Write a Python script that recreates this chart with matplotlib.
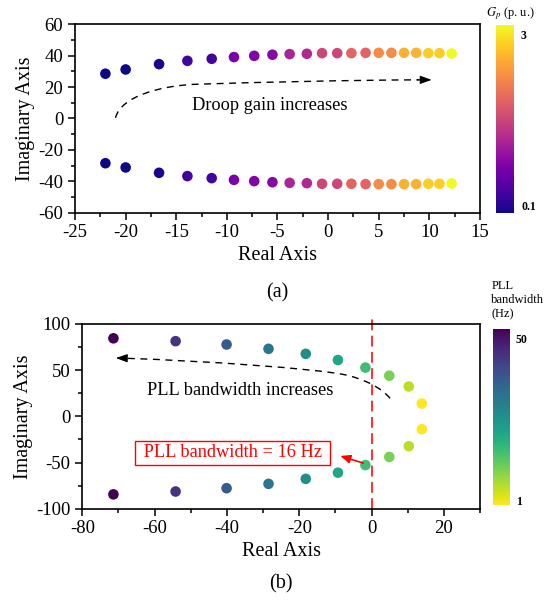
import numpy as np
import matplotlib
matplotlib.use('Agg')
import matplotlib.pyplot as plt
from matplotlib.path import Path
from matplotlib.patches import PathPatch

plt.rcParams['font.family'] = ['Liberation Serif', 'DejaVu Serif']
plt.rcParams['mathtext.fontset'] = 'stix'
plt.rcParams['axes.unicode_minus'] = False

# (a) droop gain sweep: upper branch poles (lower branch is the conjugate)
droop_re = [-22.0, -20.0, -16.7, -13.9, -11.5, -9.3, -7.3, -5.5, -3.8, -2.1,
            -0.6, 0.9, 2.3, 3.7, 5.0, 6.25, 7.5, 8.7, 9.9, 11.0, 12.2]
droop_im = [28.5, 31.2, 34.6, 36.7, 38.0, 39.1, 39.9, 40.6, 41.0, 41.2,
            41.6, 41.6, 41.6, 41.8, 41.8, 41.8, 41.8, 41.8, 41.6, 41.6, 41.4]
droop_gain = [0.1, 0.1, 0.15, 0.4, 0.4, 0.8, 0.85, 0.9, 1.2, 1.25, 1.55,
              1.55, 1.85, 1.85, 2.2, 2.2, 2.5, 2.5, 2.7, 2.7, 3.0]

# (b) PLL bandwidth sweep: upper branch poles
pll_re = [13.9, 10.3, 4.9, -1.7, -9.3, -18.2, -28.5, -40.1, -54.2, -71.4]
pll_im = [13.9, 32.3, 44.0, 52.8, 61.0, 67.7, 73.1, 77.8, 81.4, 84.5]
pll_bw = [1, 6, 11, 16, 21, 26, 31, 36, 43, 50]

fig = plt.figure(figsize=(5.57, 6.02), dpi=100)
ax1 = fig.add_axes([0.1347, 0.6467, 0.727, 0.313])
ax2 = fig.add_axes([0.1478, 0.155, 0.714, 0.3068])
cax1 = fig.add_axes([0.890, 0.646, 0.033, 0.312])
cax2 = fig.add_axes([0.885, 0.161, 0.031, 0.292])

tick_fs = 13.5
label_fs = 14.5


def style_axis(ax):
    for s in ['top', 'right', 'left', 'bottom']:
        ax.spines[s].set_linewidth(1.2)
    ax.tick_params(which='both', direction='out', top=False, right=False,
                   labelsize=tick_fs, width=1.1)
    ax.tick_params(which='major', length=5)
    ax.tick_params(which='minor', length=3)


# ---- (a) ----
re_a = np.array(droop_re)
im_a = np.array(droop_im)
sc1 = ax1.scatter(np.r_[re_a, re_a], np.r_[im_a, -im_a], c=droop_gain * 2,
                  cmap='plasma', vmin=0.1, vmax=3.0, s=58, linewidths=0, zorder=3)
ax1.set_xlim(-25, 15)
ax1.set_ylim(-60, 60)
ax1.set_xticks(np.arange(-25, 16, 5))
ax1.set_xticks(np.arange(-22.5, 15, 5), minor=True)
ax1.set_yticks(np.arange(-60, 61, 20))
ax1.set_yticks(np.arange(-50, 60, 20), minor=True)
style_axis(ax1)
ax1.set_xlabel('Real Axis', fontsize=label_fs, labelpad=3)
ax1.set_ylabel('Imaginary Axis', fontsize=label_fs, labelpad=2)

# guide curve (a)
guide_a = [(-21.0, 0.4), (-20.5, 14.0), (-16.5, 21.1), (-13.0, 21.8),
           (-6.0, 23.2), (2.0, 24.4), (9.0, 24.6)]
codes = [Path.MOVETO] + [Path.CURVE4] * 6
ax1.add_patch(PathPatch(Path(guide_a, codes), fill=False, ec='k', lw=1.0,
                        ls=(0, (5, 4))))
ax1.annotate('', xy=(10.5, 24.6), xytext=(8.5, 24.6),
             arrowprops=dict(arrowstyle='-|>,head_length=0.7,head_width=0.25',
                             color='k', lw=0.8))
ax1.text(-5.8, 8.0, 'Droop gain increases', fontsize=13.2,
         ha='center', va='center')

cb1 = fig.colorbar(sc1, cax=cax1)
cb1.outline.set_visible(False)
cb1.set_ticks([0.22, 2.86])
cb1.set_ticklabels(['0.1', '3'])
cax1.tick_params(length=0, labelsize=8.5, pad=5)
for t in cax1.get_yticklabels():
    t.set_fontweight('bold')
fig.text(0.917, 0.977, '$G_p$ (p. u.)', fontsize=9, ha='center', va='center')

fig.text(0.498, 0.513, '(a)', fontsize=label_fs, ha='center', va='center')

# ---- (b) ----
re_b = np.array(pll_re)
im_b = np.array(pll_im)
sc2 = ax2.scatter(np.r_[re_b, re_b], np.r_[im_b, -im_b], c=pll_bw * 2,
                  cmap='viridis_r', vmin=1, vmax=50, s=58, linewidths=0, zorder=3)
ax2.set_xlim(-80, 30)
ax2.set_ylim(-100, 100)
ax2.set_xticks(np.arange(-80, 21, 20))
ax2.set_xticks(np.arange(-70, 31, 20), minor=True)
ax2.set_yticks(np.arange(-100, 101, 50))
ax2.set_yticks(np.arange(-75, 100, 50), minor=True)
style_axis(ax2)
ax2.set_xlabel('Real Axis', fontsize=label_fs, labelpad=3)
ax2.set_ylabel('Imaginary Axis', fontsize=label_fs, labelpad=2)

ax2.plot([0, 0], [-100, 108], color='#ff2020', lw=1.3, ls=(0, (6, 3)),
         clip_on=False, zorder=2)

guide_b = [(5.1, 19.5), (3.0, 30.0), (-2.0, 41.0), (-8.0, 45.5),
           (-16.0, 51.5), (-45.0, 60.0), (-69.0, 63.0)]
ax2.add_patch(PathPatch(Path(guide_b, codes), fill=False, ec='k', lw=1.0,
                        ls=(0, (5, 4))))
ax2.annotate('', xy=(-71.5, 63.2), xytext=(-68.5, 63.0),
             arrowprops=dict(arrowstyle='-|>,head_length=0.7,head_width=0.25',
                             color='k', lw=0.8))
ax2.text(-36.4, 27.8, 'PLL bandwidth increases', fontsize=13.2,
         ha='center', va='center')

ax2.text(-38.5, -39.4, ' PLL bandwidth = 16 Hz ', fontsize=13.2, color='red',
         ha='center', va='center',
         bbox=dict(boxstyle='square,pad=0.2', fc='white', ec='red', lw=1.0))
ax2.annotate('', xy=(-9.4, -42.0), xytext=(-1.6, -51.5),
             arrowprops=dict(arrowstyle='-|>,head_length=0.6,head_width=0.25',
                             color='red', lw=1.2))

cb2 = fig.colorbar(sc2, cax=cax2)
cb2.outline.set_visible(False)
cb2.set_ticks([2.3, 47.5])
cb2.set_ticklabels(['1', '50'])
cax2.tick_params(length=0, labelsize=8.5, pad=4)
for t in cax2.get_yticklabels():
    t.set_fontweight('bold')
fig.text(0.882, 0.502, 'PLL\nbandwidth\n(Hz)', fontsize=9, ha='left',
         va='center', linespacing=1.25)

fig.text(0.505, 0.030, '(b)', fontsize=label_fs, ha='center', va='center')

fig.savefig('out.png', dpi=100)
